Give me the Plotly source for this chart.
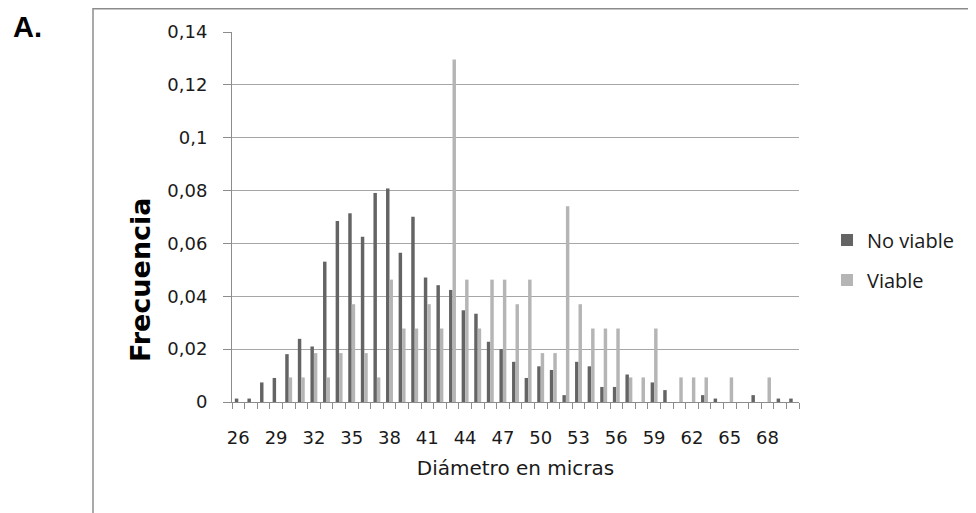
import plotly.graph_objects as go

diametro = list(range(26, 71))
no_viable = [0.0013, 0.0013, 0.0074, 0.0091, 0.0181, 0.0239, 0.0210, 0.0531, 0.0685, 0.0714,
             0.0625, 0.0791, 0.0808, 0.0565, 0.0701, 0.0471, 0.0442, 0.0424, 0.0347, 0.0334,
             0.0228, 0.0200, 0.0152, 0.0091, 0.0135, 0.0121, 0.0026, 0.0152, 0.0135, 0.0057,
             0.0057, 0.0104, 0.0, 0.0074, 0.0045, 0.0, 0.0, 0.0026, 0.0013, 0.0,
             0.0, 0.0026, 0.0, 0.0013, 0.0013]
viable = [0.0, 0.0, 0.0, 0.0, 0.0093, 0.0093, 0.0185, 0.0093, 0.0185, 0.0370,
          0.0185, 0.0093, 0.0463, 0.0278, 0.0278, 0.0370, 0.0278, 0.1296, 0.0463, 0.0278,
          0.0463, 0.0463, 0.0370, 0.0463, 0.0185, 0.0185, 0.0741, 0.0370, 0.0278, 0.0278,
          0.0278, 0.0093, 0.0093, 0.0278, 0.0, 0.0093, 0.0093, 0.0093, 0.0, 0.0093,
          0.0, 0.0, 0.0093, 0.0, 0.0]
x_tick_vals = list(range(26, 71, 3))
y_tick_vals = [0, 0.02, 0.04, 0.06, 0.08, 0.1, 0.12, 0.14]

OFF = 8  # page body margin
W, H = 976 - OFF, 513 - OFF
L, T = 232 - OFF, 32 - OFF
R = W - (799 - OFF)
B = H - (402 - OFF)
pw, ph = W - L - R, H - T - B

def px(x):
    return (x - OFF - L) / pw

def py(y):
    return (H - B - (y - OFF)) / ph

fig = go.Figure()
fig.add_trace(go.Bar(x=diametro, y=no_viable, name="No viable",
                     marker=dict(color="#646464", line=dict(width=0)), legendgroup="a"))
fig.add_trace(go.Bar(x=diametro, y=viable, name="Viable",
                     marker=dict(color="#b5b5b5", line=dict(width=0)), legendgroup="b"))

fig.update_layout(
    width=W, height=H,
    margin=dict(l=L, r=R, t=T, b=B),
    paper_bgcolor="white", plot_bgcolor="white",
    separators=", ",
    barmode="group", bargap=0.45, bargroupgap=0,
    font=dict(family="DejaVu Sans", color="#1a1a1a"),
    legend=dict(x=px(827), y=py(260), xanchor="left", yanchor="middle",
                font=dict(family="Open Sans", size=20, color="#1a1a1a"),
                traceorder="grouped", tracegroupgap=11, bgcolor="rgba(0,0,0,0)"),
    xaxis=dict(range=[25.5, 70.5], tickmode="array", tickvals=x_tick_vals,
               ticks="outside", ticklen=6, tickcolor="rgba(0,0,0,0)",
               ticklabelstandoff=13,
               tickfont=dict(family="DejaVu Sans", size=18, color="#1a1a1a"),
               showline=True, linecolor="#8c8c8c", linewidth=1, showgrid=False,
               minor=dict(tick0=25.5, dtick=1, ticks="outside", ticklen=6,
                          tickcolor="#8c8c8c", showgrid=False),
               title=dict(text="Diámetro en micras", standoff=14,
                          font=dict(family="DejaVu Sans", size=20, color="#1a1a1a"))),
    yaxis=dict(range=[0, 0.14], tickmode="array", tickvals=y_tick_vals,
               ticks="outside", ticklen=8, tickcolor="#8c8c8c",
               ticklabelstandoff=12,
               tickfont=dict(family="DejaVu Sans", size=18, color="#1a1a1a"),
               showline=True, linecolor="#8c8c8c", linewidth=1,
               showgrid=True, gridcolor="#a6a6a6", gridwidth=1, zeroline=False),
    annotations=[
        dict(text="<b>Frecuencia</b>", x=px(140), y=py(280), xref="paper", yref="paper",
             showarrow=False, textangle=-90, xanchor="center", yanchor="middle",
             font=dict(family="DejaVu Sans", size=27, color="#000000")),
        dict(text="<b>A.</b>", x=px(27), y=py(8.5), xref="paper", yref="paper",
             showarrow=False, xanchor="center", yanchor="top",
             font=dict(family="Liberation Sans", size=29, color="#000000")),
    ],
    shapes=[
        dict(type="line", xref="paper", yref="paper", x0=px(93), x1=px(985),
             y0=py(8.7), y1=py(8.7), line=dict(color="#8c8c8c", width=1.5)),
        dict(type="line", xref="paper", yref="paper", x0=px(93), x1=px(93),
             y0=py(8), y1=py(520), line=dict(color="#8c8c8c", width=1.5)),
    ],
)

fig.write_html("out.html")
